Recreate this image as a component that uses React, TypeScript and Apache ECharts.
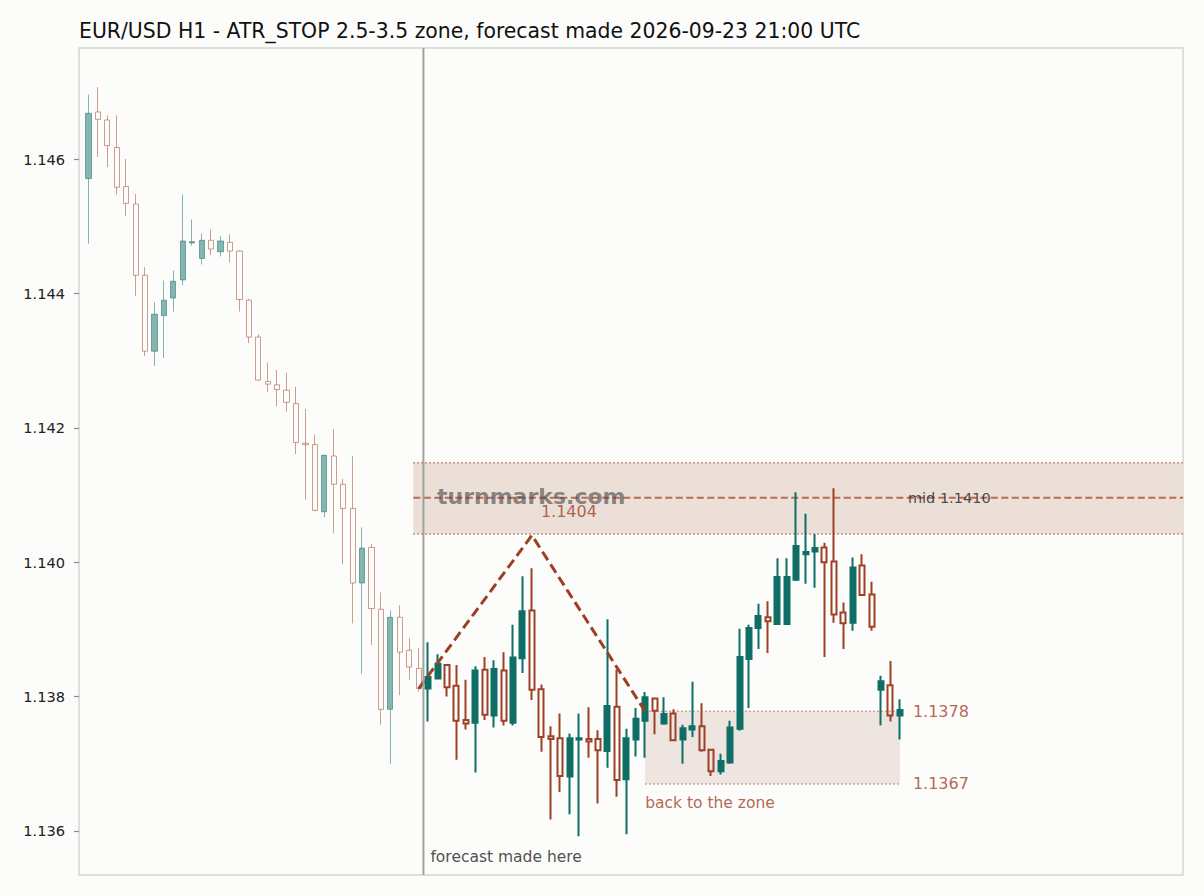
import React, { useEffect, useRef } from "react";
import * as echarts from "echarts";

// ---------- data (prices) ----------
const TITLE = "EUR/USD H1 - ATR_STOP 2.5-3.5 zone, forecast made 2026-09-23 21:00 UTC";

// [open, close, low, high]
const HISTORY_CANDLES: number[][] = [
  [1.14571, 1.14668, 1.14474, 1.14696],
  [1.1467, 1.14659, 1.14603, 1.14707],
  [1.14658, 1.1462, 1.14588, 1.14665],
  [1.14617, 1.14558, 1.14547, 1.14665],
  [1.14559, 1.14534, 1.14515, 1.146],
  [1.14533, 1.14427, 1.14396, 1.14548],
  [1.14427, 1.14314, 1.14307, 1.14439],
  [1.14314, 1.14369, 1.14292, 1.14387],
  [1.14367, 1.1439, 1.14304, 1.14419],
  [1.14393, 1.14418, 1.14373, 1.14434],
  [1.1442, 1.14478, 1.14412, 1.14547],
  [1.14475, 1.14477, 1.14471, 1.1451],
  [1.14452, 1.14479, 1.14443, 1.14489],
  [1.14479, 1.14466, 1.14457, 1.14495],
  [1.14462, 1.14478, 1.14455, 1.14485],
  [1.14476, 1.14463, 1.14446, 1.14488],
  [1.14463, 1.14391, 1.14373, 1.14464],
  [1.1439, 1.14335, 1.14326, 1.14392],
  [1.14335, 1.14271, 1.1427, 1.14339],
  [1.14269, 1.14265, 1.14253, 1.14297],
  [1.14264, 1.14257, 1.14232, 1.14286],
  [1.14256, 1.14238, 1.14224, 1.14282],
  [1.14236, 1.14178, 1.14161, 1.14261],
  [1.14177, 1.14175, 1.14093, 1.14228],
  [1.14175, 1.14077, 1.14076, 1.1419],
  [1.14075, 1.14159, 1.14067, 1.1416],
  [1.14158, 1.14116, 1.14043, 1.14198],
  [1.14116, 1.1408, 1.13997, 1.14124],
  [1.1408, 1.13969, 1.13909, 1.14158],
  [1.13969, 1.14021, 1.13834, 1.14052],
  [1.14022, 1.13931, 1.13877, 1.14027],
  [1.1393, 1.13781, 1.13758, 1.13955],
  [1.13781, 1.13918, 1.137, 1.13928],
  [1.13918, 1.13866, 1.13802, 1.13936],
  [1.13869, 1.13844, 1.13825, 1.13887],
  [1.13842, 1.13812, 1.13807, 1.13872],
];

const FORECAST_CANDLES: number[][] = [
  [1.13812, 1.13829, 1.13763, 1.13881],
  [1.13827, 1.13849, 1.13826, 1.13863],
  [1.13847, 1.13814, 1.138, 1.13848],
  [1.13816, 1.13764, 1.13706, 1.13847],
  [1.13765, 1.1376, 1.13751, 1.13825],
  [1.13761, 1.13839, 1.13687, 1.13845],
  [1.1384, 1.13773, 1.13765, 1.13859],
  [1.13772, 1.13841, 1.13754, 1.13854],
  [1.13839, 1.13764, 1.13757, 1.13866],
  [1.13761, 1.13858, 1.13757, 1.13907],
  [1.13857, 1.13927, 1.13835, 1.13979],
  [1.13928, 1.1381, 1.13795, 1.13991],
  [1.13811, 1.1374, 1.13718, 1.13818],
  [1.13741, 1.13737, 1.13617, 1.13756],
  [1.13738, 1.13682, 1.13658, 1.13775],
  [1.13681, 1.13738, 1.13625, 1.13745],
  [1.13736, 1.13738, 1.13592, 1.13775],
  [1.13737, 1.13733, 1.13709, 1.13784],
  [1.13737, 1.1372, 1.13641, 1.1375],
  [1.13719, 1.13786, 1.13694, 1.13915],
  [1.13785, 1.13676, 1.13651, 1.1384],
  [1.13677, 1.13738, 1.13595, 1.13752],
  [1.13736, 1.13767, 1.13711, 1.13783],
  [1.13764, 1.13799, 1.13709, 1.13807],
  [1.13797, 1.13779, 1.13744, 1.13798],
  [1.1376, 1.13774, 1.13758, 1.13799],
  [1.13775, 1.13735, 1.13734, 1.13781],
  [1.13736, 1.13753, 1.137, 1.13758],
  [1.13751, 1.13756, 1.1374, 1.13822],
  [1.13756, 1.1372, 1.13718, 1.1379],
  [1.13721, 1.13689, 1.13682, 1.13722],
  [1.13689, 1.13704, 1.13684, 1.13715],
  [1.13702, 1.13754, 1.137, 1.13764],
  [1.13752, 1.13859, 1.13749, 1.13901],
  [1.13856, 1.13902, 1.13783, 1.13907],
  [1.13902, 1.1392, 1.13871, 1.13938],
  [1.13918, 1.13912, 1.13865, 1.13942],
  [1.13908, 1.13978, 1.13907, 1.14006],
  [1.13908, 1.13978, 1.13907, 1.14006],
  [1.13974, 1.14024, 1.13972, 1.14104],
  [1.14012, 1.14015, 1.13968, 1.14072],
  [1.14016, 1.14021, 1.13962, 1.14042],
  [1.14022, 1.14, 1.13859, 1.14029],
  [1.14001, 1.13922, 1.1391, 1.1411],
  [1.13925, 1.13909, 1.13871, 1.1394],
  [1.1391, 1.13992, 1.13898, 1.14007],
  [1.13995, 1.13951, 1.1395, 1.14012],
  [1.13952, 1.13904, 1.13898, 1.13971],
  [1.1381, 1.13823, 1.13757, 1.13831],
  [1.13817, 1.13772, 1.13763, 1.13853],
  [1.13772, 1.1378, 1.13736, 1.13796],
];

const Y_TICKS = [1.136, 1.138, 1.14, 1.142, 1.144, 1.146];
const Y_MIN = 1.135345;
const Y_MAX = 1.147652;

// x positions are in slot units (slot 0 is an empty leading slot)
const SLOT_COUNT = 118;
const FORECAST_SLOT = 36.5;
const ZONE_START_SLOT = 35.43;

const TARGET_ZONE = { top: 1.14148, bottom: 1.14042, mid: 1.14096 };
const RETURN_ZONE = { top: 1.13778, bottom: 1.1367, fromSlot: 60, toSlot: 87 };

// forecast path: [slot, price]
const FORECAST_PATH: number[][] = [
  [36, 1.13812],
  [48, 1.1404],
  [60, 1.13778],
];

const CATEGORIES = Array.from({ length: SLOT_COUNT }, (_, i) => `bar ${i}`);

const TEAL = "#0f6e66";
const BROWN = "#9e4026";
const BG = "#fcfcfa";
const FONT = "DejaVu Sans";

export default function App() {
  const ref = useRef<HTMLDivElement>(null);

  useEffect(() => {
    document.body.style.margin = "0";
    document.body.style.background = BG;
    if (!ref.current) return;
    const chart = echarts.init(ref.current, null, { renderer: "svg" });

    const blank = ["-", "-", "-", "-"];
    const histData = [blank, ...HISTORY_CANDLES];
    const foreData = [
      ...Array.from({ length: 1 + HISTORY_CANDLES.length }, () => blank),
      ...FORECAST_CANDLES,
    ];
    const lastSlot = HISTORY_CANDLES.length + FORECAST_CANDLES.length;

    const textPoint = (
      slot: number,
      price: number,
      text: string,
      color: string,
      size: number,
      dx: number,
      dy: number
    ) => ({
      value: [slot, price],
      label: {
        show: true,
        position: "inside",
        formatter: text,
        color,
        fontSize: size,
        fontFamily: FONT,
        align: "left",
        verticalAlign: "middle",
        offset: [dx, dy],
      },
    });

    const lineSeries = (
      data: number[][],
      color: string,
      width: number,
      type: any,
      z: number
    ) => ({
      type: "line",
      xAxisIndex: 1,
      yAxisIndex: 0,
      data,
      symbol: "none",
      silent: true,
      z,
      lineStyle: { color, width, type },
    });

    const option: any = {
      animation: false,
      backgroundColor: BG,
      title: {
        text: TITLE,
        left: 79,
        top: 21,
        padding: 0,
        textStyle: { fontFamily: FONT, fontSize: 20.4, fontWeight: "normal", color: "#111" },
      },
      grid: {
        left: 79,
        right: 21,
        top: 48,
        bottom: 21,
        show: true,
        borderColor: "#d2d7d4",
        borderWidth: 1.5,
        backgroundColor: BG,
      },
      xAxis: [
        {
          type: "category",
          data: CATEGORIES,
          boundaryGap: false,
          show: false,
        },
        {
          type: "value",
          min: 0,
          max: SLOT_COUNT - 1,
          show: false,
        },
      ],
      yAxis: {
        type: "value",
        min: Y_MIN,
        max: Y_MAX,
        axisLine: { show: false },
        splitLine: { show: false },
        axisTick: {
          show: true,
          length: 5,
          customValues: Y_TICKS,
          lineStyle: { color: "#8a8f8c", width: 1.2 },
        },
        axisLabel: {
          customValues: Y_TICKS,
          formatter: (v: number) => v.toFixed(3),
          fontFamily: FONT,
          fontSize: 14.6,
          color: "#222",
          margin: 14,
        },
      },
      graphic: [
        {
          type: "text",
          left: 437,
          top: 485,
          z: 100,
          silent: true,
          style: {
            text: "turnmarks.com",
            font: `bold 22px "${FONT}"`,
            fill: "rgba(70,70,70,0.62)",
          },
        },
      ],
      series: [
        {
          type: "line",
          xAxisIndex: 1,
          yAxisIndex: 0,
          data: [],
          z: 1,
          silent: true,
          markArea: {
            silent: true,
            data: [
              [
                { coord: [ZONE_START_SLOT, TARGET_ZONE.top], itemStyle: { color: "#ecdfd8" } },
                { coord: [SLOT_COUNT - 1, TARGET_ZONE.bottom] },
              ],
              [
                { coord: [RETURN_ZONE.fromSlot, RETURN_ZONE.top], itemStyle: { color: "#efe5e0" } },
                { coord: [RETURN_ZONE.toSlot, RETURN_ZONE.bottom] },
              ],
            ],
          },
        },
        lineSeries(
          [[ZONE_START_SLOT, TARGET_ZONE.top], [SLOT_COUNT - 1, TARGET_ZONE.top]],
          "#b8735e", 1.5, [1.5, 2.5], 2
        ),
        lineSeries(
          [[ZONE_START_SLOT, TARGET_ZONE.bottom], [SLOT_COUNT - 1, TARGET_ZONE.bottom]],
          "#b8735e", 1.5, [1.5, 2.5], 2
        ),
        lineSeries(
          [[ZONE_START_SLOT, TARGET_ZONE.mid], [SLOT_COUNT - 1, TARGET_ZONE.mid]],
          "#b86b55", 2, [7, 3.5], 2
        ),
        lineSeries(
          [[RETURN_ZONE.fromSlot, RETURN_ZONE.top], [RETURN_ZONE.toSlot, RETURN_ZONE.top]],
          "#c4907e", 1.5, [1.5, 2.5], 2
        ),
        lineSeries(
          [[RETURN_ZONE.fromSlot, RETURN_ZONE.bottom], [RETURN_ZONE.toSlot, RETURN_ZONE.bottom]],
          "#c4907e", 1.5, [1.5, 2.5], 2
        ),
        {
          type: "candlestick",
          xAxisIndex: 0,
          yAxisIndex: 0,
          data: histData,
          barWidth: 5.7,
          z: 3,
          silent: true,
          itemStyle: {
            color: TEAL,
            color0: "rgba(0,0,0,0)",
            borderColor: TEAL,
            borderColor0: BROWN,
            borderWidth: 1,
            opacity: 0.5,
          },
        },
        {
          type: "candlestick",
          xAxisIndex: 0,
          yAxisIndex: 0,
          data: foreData,
          barWidth: 5.5,
          z: 4,
          silent: true,
          itemStyle: {
            color: TEAL,
            color0: "rgba(0,0,0,0)",
            borderColor: TEAL,
            borderColor0: BROWN,
            borderWidth: 2,
          },
        },
        lineSeries(FORECAST_PATH, "#9c3f22", 3, [10, 5], 5),
        lineSeries([[FORECAST_SLOT, Y_MIN], [FORECAST_SLOT, Y_MAX]], "#9ea39f", 2, "solid", 5),
        {
          type: "scatter",
          xAxisIndex: 1,
          yAxisIndex: 0,
          symbolSize: 1,
          silent: true,
          z: 6,
          itemStyle: { color: "rgba(0,0,0,0)" },
          data: [
            textPoint(FORECAST_PATH[1][0], FORECAST_PATH[1][1], "1.1404", BROWN, 16, 9, -24),
            textPoint(lastSlot, TARGET_ZONE.mid, "mid 1.1410", "#222", 14.5, 8, 0),
            textPoint(lastSlot, RETURN_ZONE.top, "1.1378", BROWN, 16, 13, 0),
            textPoint(lastSlot, RETURN_ZONE.bottom, "1.1367", BROWN, 16, 13, 0),
            textPoint(RETURN_ZONE.fromSlot, RETURN_ZONE.bottom, "back to the zone", BROWN, 15.5, 0, 19),
            textPoint(FORECAST_SLOT, Y_MIN, "forecast made here", "#222", 15.5, 7, -18),
          ],
        },
      ],
    };

    chart.setOption(option);
    return () => chart.dispose();
  }, []);

  return <div ref={ref} style={{ width: 1204, height: 896 }} />;
}
